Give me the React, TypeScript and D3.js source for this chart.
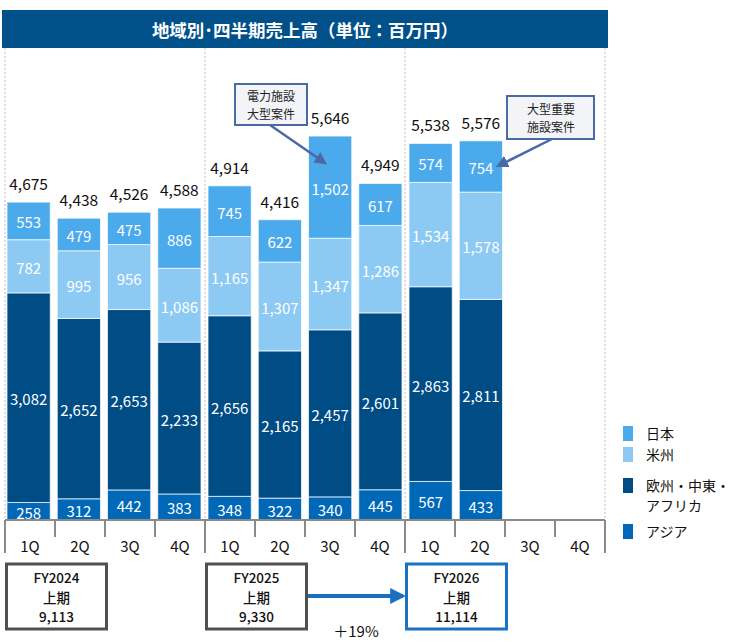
import React from "react";
import * as d3 from "d3";

const years = ["FY2024", "FY2025", "FY2026"];
const quarters = ["1Q", "2Q", "3Q", "4Q"];

const asia = [258, 312, 442, 383, 348, 322, 340, 445, 567, 433];
const europe = [3082, 2652, 2653, 2233, 2656, 2165, 2457, 2601, 2863, 2811];
const america = [782, 995, 956, 1086, 1165, 1307, 1347, 1286, 1534, 1578];
const japan = [553, 479, 475, 886, 745, 622, 1502, 617, 574, 754];

const halfLabels = ["上期", "上期", "上期"];
const halfTotals = ["9,113", "9,330", "11,114"];
const growthLabel = "＋19%";

const seriesNames = ["アジア", "欧州・中東・アフリカ", "米州", "日本"];
const seriesColors = ["#0068b7", "#004c85", "#8ccaf4", "#4baaeb"];

const title = "地域別･四半期売上高（単位：百万円）";
const notes = [
  { slot: 6, lines: ["電力施設", "大型案件"] },
  { slot: 9, lines: ["大型重要", "施設案件"] },
];

const font = "'Noto Sans CJK JP', 'Noto Sans', sans-serif";

export default function App() {
  const slots = years.flatMap((y) => quarters.map((q) => `${y}-${q}`));
  const rows = asia.map((_, i) => ({
    key: slots[i],
    アジア: asia[i],
    "欧州・中東・アフリカ": europe[i],
    米州: america[i],
    日本: japan[i],
  }));
  const stacked = d3.stack<any>().keys(seriesNames)(rows);

  const left = 5;
  const right = 605;
  const base = 520;
  const slot = d3.scaleBand().domain(slots).range([left, right]).padding(0);
  const x = d3
    .scaleBand()
    .domain(slots)
    .range([left, right])
    .paddingInner(0.14)
    .paddingOuter(0.04);
  const y = d3.scaleLinear().domain([0, 6000]).range([base, base - 408]);
  const fmt = d3.format(",");
  const step = slot.step();

  const totals = rows.map((r, i) => asia[i] + europe[i] + america[i] + japan[i]);

  const legend = [
    { name: "日本", color: seriesColors[3], lines: ["日本"], y: 426 },
    { name: "米州", color: seriesColors[2], lines: ["米州"], y: 447 },
    { name: "欧州", color: seriesColors[1], lines: ["欧州・中東・", "アフリカ"], y: 478 },
    { name: "アジア", color: seriesColors[0], lines: ["アジア"], y: 524 },
  ];

  const noteBoxes = [
    { x0: 235, y0: 84, w: 72, h: 41, tx: 271, ax: 270, ay: 125, bx: 325, by: 163 },
    { x0: 507, y0: 96, w: 87, h: 43, tx: 551, ax: 552, ay: 139, bx: 498, by: 166 },
  ];

  return (
    <svg
      width={732}
      height={643}
      style={{ position: "absolute", left: 0, top: 0, fontFamily: font }}
    >
      <defs>
        <marker id="ah" viewBox="0 0 10 10" refX="8" refY="5" markerWidth="5" markerHeight="5" orient="auto">
          <path d="M0,0L10,5L0,10z" fill="#4a6aa6" />
        </marker>
        <marker id="ah2" viewBox="0 0 10 10" refX="8" refY="5" markerWidth="4" markerHeight="4" orient="auto">
          <path d="M0,0L10,5L0,10z" fill="#1b6fc0" />
        </marker>
      </defs>

      {/* title banner */}
      <rect x={2} y={10} width={606} height={38} fill="#00508a" />
      <text x={305} y={29} fill="#fff" fontSize={17.5} fontWeight={700} textAnchor="middle" dominantBaseline="central">
        {title}
      </text>

      {/* year separators */}
      {years.concat("end").map((yr, i) => (
        <line
          key={yr}
          x1={left + i * 4 * step}
          x2={left + i * 4 * step}
          y1={48}
          y2={base}
          stroke="#b8b8b8"
          strokeDasharray="2,2"
        />
      ))}

      {/* bars */}
      {stacked.map((s, si) => (
        <g key={s.key} fill={seriesColors[si]}>
          {s.map((d) => (
            <g key={d.data.key}>
              <rect
                x={x(d.data.key)}
                y={y(d[1])}
                width={x.bandwidth()}
                height={y(d[0]) - y(d[1])}
                stroke="#ffffff"
                strokeOpacity={0.7}
                strokeWidth={1}
              />
              <text
                x={(x(d.data.key) ?? 0) + x.bandwidth() / 2}
                y={(y(d[0]) + y(d[1])) / 2 + 1}
                fill="#fff"
                fontSize={15}
                textAnchor="middle"
                dominantBaseline="central"
              >
                {fmt(d[1] - d[0])}
              </text>
            </g>
          ))}
        </g>
      ))}

      {/* totals */}
      {totals.map((t, i) => (
        <text
          key={slots[i]}
          x={(x(slots[i]) ?? 0) + x.bandwidth() / 2}
          y={y(t) - 12}
          fontSize={15.5}
          textAnchor="middle"
          fill="#111"
        >
          {fmt(t)}
        </text>
      ))}

      {/* axis */}
      <line x1={left} x2={right} y1={base} y2={base} stroke="#8a8a8a" strokeWidth={2} />
      {slots.concat("end").map((k, i) => (
        <line
          key={k}
          x1={left + i * step}
          x2={left + i * step}
          y1={base}
          y2={i % 4 === 0 ? base + 33 : base + 17}
          stroke="#8a8a8a"
          strokeWidth={2}
        />
      ))}
      {slots.map((k) => (
        <text
          key={k}
          x={(slot(k) ?? 0) + step / 2}
          y={545}
          fontSize={15}
          textAnchor="middle"
          dominantBaseline="central"
          fill="#111"
        >
          {k.split("-")[1]}
        </text>
      ))}

      {/* half-year boxes */}
      {years.map((yr, i) => {
        const x0 = slot(`${yr}-1Q`) ?? 0;
        const stroke = i === 2 ? "#1a72c2" : "#505050";
        return (
          <g key={yr}>
            <rect x={x0 + 1.5} y={564} width={2 * step} height={65} fill="#fff" stroke={stroke} strokeWidth={3} />
            {[yr, halfLabels[i], halfTotals[i]].map((line, li) => (
              <text
                key={li}
                x={x0 + 1.5 + step}
                y={577 + li * 19.5}
                fontSize={13.5}
                fontWeight={500}
                textAnchor="middle"
                dominantBaseline="central"
                fill="#111"
              >
                {line}
              </text>
            ))}
          </g>
        );
      })}
      <line
        x1={(slot("FY2025-1Q") ?? 0) + 2 * step + 3}
        x2={(slot("FY2026-1Q") ?? 0) - 2}
        y1={596}
        y2={596}
        stroke="#1b6fc0"
        strokeWidth={4}
        markerEnd="url(#ah2)"
      />
      <text x={356} y={630} fontSize={15} textAnchor="middle" dominantBaseline="central" fill="#111">
        {growthLabel}
      </text>

      {/* annotations */}
      {notes.map((n, i) => {
        const b = noteBoxes[i];
        return (
          <g key={n.slot}>
            <line x1={b.ax} y1={b.ay} x2={b.bx} y2={b.by} stroke="#4a6aa6" strokeWidth={2.5} markerEnd="url(#ah)" />
            <rect x={b.x0} y={b.y0} width={b.w} height={b.h} fill="#f2f4f8" stroke="#4a6aa6" strokeWidth={2} />
            {n.lines.map((l, li) => (
              <text
                key={li}
                x={b.tx}
                y={b.y0 + b.h / 2 + (li - 0.5) * 17.5}
                fontSize={12}
                textAnchor="middle"
                dominantBaseline="central"
                fill="#222"
              >
                {l}
              </text>
            ))}
          </g>
        );
      })}

      {/* legend */}
      {legend.map((l) => (
        <g key={l.name}>
          <rect x={623} y={l.y} width={10} height={15} fill={l.color} />
          {l.lines.map((t, li) => (
            <text key={li} x={646} y={l.y + 7 + li * 20} fontSize={14} dominantBaseline="central" fill="#111">
              {t}
            </text>
          ))}
        </g>
      ))}
    </svg>
  );
}
